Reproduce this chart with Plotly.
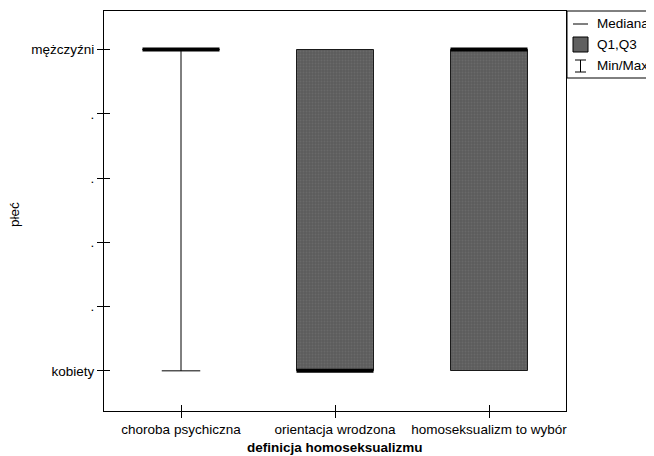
import plotly.graph_objects as go

categories = ["choroba psychiczna", "orientacja wrodzona", "homoseksualizm to wybór"]
median = [2, 1, 2]
q1 = [2, 1, 1]
q3 = [2, 2, 2]
vmin = [1, 1, 1]
vmax = [2, 2, 2]
y_tickvals = [1, 1.2, 1.4, 1.6, 1.8, 2]
y_ticktext = ["kobiety", ".", ".", ".", ".", "mężczyźni"]

FONT = "Liberation Sans"
FS = 13.5
pos = list(range(len(categories)))
box_w = 0.5
cap_w = 0.25

fig = go.Figure()

# boxes Q1-Q3
fig.add_trace(go.Bar(
    x=pos, y=[b - a for a, b in zip(q1, q3)], base=q1, width=box_w,
    marker=dict(color="#606060", line=dict(color="#1a1a1a", width=1),
                pattern=dict(shape=".", fgcolor="#767676", bgcolor="#5c5c5c", size=3, solidity=0.3)),
    showlegend=False, hoverinfo="skip"))

# whiskers (outside box)
wx, wy = [], []
for i in pos:
    if vmin[i] < q1[i]:
        wx += [i, i, None, i - cap_w / 2, i + cap_w / 2, None]
        wy += [vmin[i], q1[i], None, vmin[i], vmin[i], None]
    if vmax[i] > q3[i]:
        wx += [i, i, None, i - cap_w / 2, i + cap_w / 2, None]
        wy += [q3[i], vmax[i], None, vmax[i], vmax[i], None]
fig.add_trace(go.Scatter(x=wx, y=wy, mode="lines", line=dict(color="black", width=1),
                         showlegend=False, hoverinfo="skip"))

# medians
mx, my = [], []
for i in pos:
    mx += [i - box_w / 2, i + box_w / 2, None]
    my += [median[i], median[i], None]
fig.add_trace(go.Scatter(x=mx, y=my, mode="lines", line=dict(color="black", width=4),
                         showlegend=False, hoverinfo="skip"))

# dummy trace for overlay axes (inside ticks)
fig.add_trace(go.Scatter(x=pos, y=median, xaxis="x2", yaxis="y2", mode="markers",
                         marker=dict(opacity=0), showlegend=False, hoverinfo="skip"))

xr = [-0.5, 2.5]
yr = [0.875, 2.12]
# page has an 8px body margin: figure sized/offset accordingly
fig.update_layout(
    width=646, height=448,
    margin=dict(l=96, r=88, t=3, b=45, autoexpand=False),
    paper_bgcolor="white", plot_bgcolor="white",
    font=dict(family=FONT, size=FS, color="black"),
    bargap=0,
    xaxis=dict(range=xr, tickvals=pos, ticktext=categories, ticks="outside", ticklen=6,
               tickcolor="black", showline=True, linecolor="black", linewidth=1, mirror=True,
               showgrid=False, zeroline=False, fixedrange=True, automargin=False),
    yaxis=dict(range=yr, tickvals=y_tickvals, ticktext=y_ticktext, ticks="outside", ticklen=6,
               tickcolor="black", showline=True, linecolor="black", linewidth=1, mirror=True,
               showgrid=False, zeroline=False, fixedrange=True, automargin=False),
    xaxis2=dict(range=xr, overlaying="x", tickvals=pos, ticks="inside", ticklen=6, tickcolor="black",
                showticklabels=False, showgrid=False, zeroline=False, showline=False, fixedrange=True,
                automargin=False),
    yaxis2=dict(range=yr, overlaying="y", tickvals=y_tickvals, ticks="inside", ticklen=6, tickcolor="black",
                showticklabels=False, showgrid=False, zeroline=False, showline=False, fixedrange=True,
                automargin=False),
    showlegend=False,
)

def px(xp): return (xp - 104) / 462
def py(yp): return (411 - yp) / 400

# axis titles
fig.add_annotation(text="<b>definicja homoseksualizmu</b>", xref="paper", yref="paper",
                   x=px(335), y=py(447), xanchor="center", yanchor="middle", showarrow=False,
                   font=dict(family=FONT, size=FS, color="black"))
fig.add_annotation(text="płeć", xref="paper", yref="paper", x=px(14), y=py(215), textangle=-90,
                   xanchor="center", yanchor="middle", showarrow=False,
                   font=dict(family=FONT, size=FS, color="black"))

# manual legend box
fig.add_shape(type="rect", xref="paper", yref="paper", x0=px(567), x1=px(665),
              y0=py(78), y1=py(11), line=dict(color="black", width=1),
              fillcolor="white", layer="above")
fig.add_shape(type="line", xref="paper", yref="paper", x0=px(573), x1=px(588), y0=py(24), y1=py(24),
              line=dict(color="black", width=1))
fig.add_shape(type="rect", xref="paper", yref="paper", x0=px(573), x1=px(588), y0=py(52), y1=py(37),
              line=dict(color="black", width=1), fillcolor="#606060")
fig.add_shape(type="line", xref="paper", yref="paper", x0=px(580.5), x1=px(580.5), y0=py(60), y1=py(72),
              line=dict(color="black", width=1))
fig.add_shape(type="line", xref="paper", yref="paper", x0=px(575), x1=px(586), y0=py(60), y1=py(60),
              line=dict(color="black", width=1))
fig.add_shape(type="line", xref="paper", yref="paper", x0=px(575), x1=px(586), y0=py(72), y1=py(72),
              line=dict(color="black", width=1))
for label, yc in [("Mediana", 24), ("Q1,Q3", 44), ("Min/Max", 66)]:
    fig.add_annotation(text=label, xref="paper", yref="paper", x=px(595), y=py(yc),
                       xanchor="left", yanchor="middle", showarrow=False,
                       font=dict(family=FONT, size=FS, color="black"))

fig.write_html("out.html")
